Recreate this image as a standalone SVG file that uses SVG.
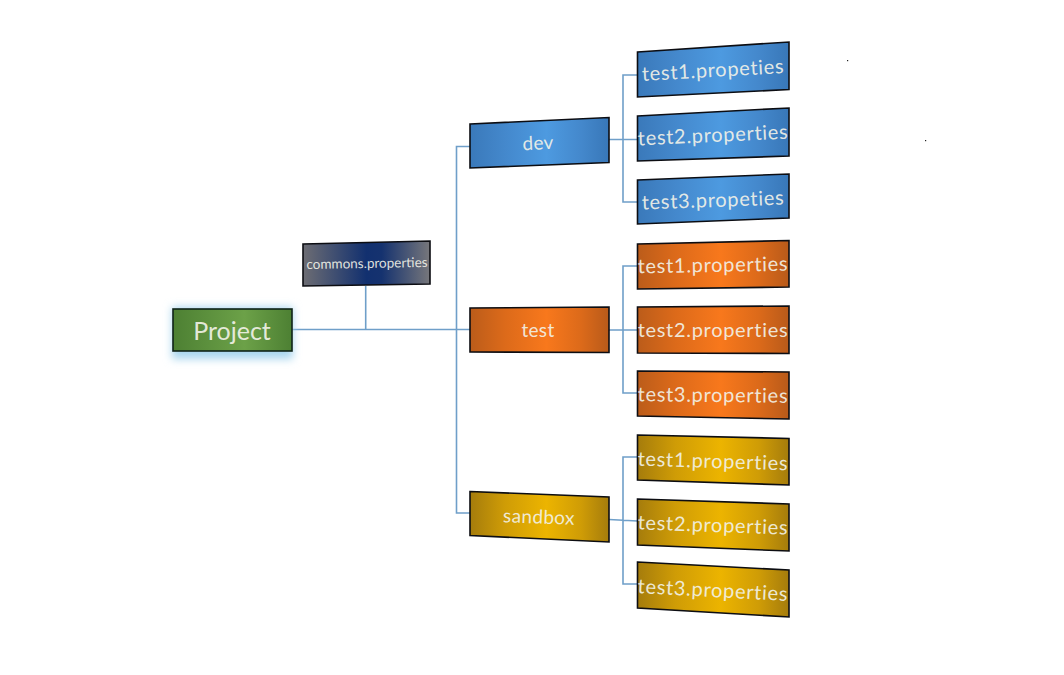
<svg xmlns="http://www.w3.org/2000/svg" width="1064" height="675" viewBox="0 0 1064 675">
<style>
.box{stroke:#0c0d12;stroke-width:1.6}
.blue{fill:url(#gBlue)}.orange{fill:url(#gOrange)}.gold{fill:url(#gGold)}
.t{font-family:"Lato","Noto Sans",sans-serif;fill:#f2f2e8;fill-opacity:.92;text-anchor:middle;dominant-baseline:central}
.leaf{font-size:20px;letter-spacing:.7px}
.mid{font-size:19px;letter-spacing:.35px}
.conn{fill:none;stroke:#6f9fc9;stroke-width:1.6}
</style>
<defs>
<linearGradient id="gBlue"><stop offset="0" stop-color="#3a79ba"/><stop offset=".25" stop-color="#4488cc"/><stop offset=".55" stop-color="#4d9ae0"/><stop offset=".8" stop-color="#4488cc"/><stop offset="1" stop-color="#3877b8"/></linearGradient>
<linearGradient id="gOrange"><stop offset="0" stop-color="#bb5c1a"/><stop offset=".25" stop-color="#dc6a1a"/><stop offset=".55" stop-color="#f8781c"/><stop offset=".8" stop-color="#dc6a1a"/><stop offset="1" stop-color="#b85a1a"/></linearGradient>
<linearGradient id="gGold"><stop offset="0" stop-color="#a57c0c"/><stop offset=".25" stop-color="#cf9c06"/><stop offset=".55" stop-color="#ecb400"/><stop offset=".8" stop-color="#cf9c06"/><stop offset="1" stop-color="#a57c0c"/></linearGradient>
<linearGradient id="gGreen"><stop offset="0" stop-color="#4d8033"/><stop offset=".6" stop-color="#6ca148"/><stop offset="1" stop-color="#4d8033"/></linearGradient>
<linearGradient id="gNavy"><stop offset="0" stop-color="#6d6d73"/><stop offset=".5" stop-color="#12306f"/><stop offset=".62" stop-color="#15326f"/><stop offset="1" stop-color="#77777b"/></linearGradient>
<filter id="glow" x="-20%" y="-50%" width="140%" height="200%"><feGaussianBlur stdDeviation="4"/></filter>
</defs>
<rect width="1064" height="675" fill="#fff"/>
<g id="connectors" class="conn">
<path d="M292 329.5H470"/>
<path d="M365.7 286V329.5"/>
<path d="M470 146.5H456.5V513H470"/>
<path d="M609 139.5H637.5M637.5 75H623V202H637.5"/>
<path d="M609 330H637.5M637.5 266H623V393H637.5"/>
<path d="M609 519.5L637.5 521M637.5 457H623V584H637.5"/>
</g>
<g id="project">
<rect x="172" y="307" width="121" height="52" fill="#a9d6ee" filter="url(#glow)"/>
<rect x="173" y="309" width="119" height="42" fill="url(#gGreen)" stroke="#10231a" stroke-width="1.6"/>
<text class="t" x="232" y="330" font-size="25">Project</text>
</g>
<g id="commons">
<polygon class="box" points="303,244 430,241 430,284 303,286" fill="url(#gNavy)"/>
<text class="t" x="367" y="263" font-size="13.5" transform="rotate(-1 367 263)">commons.properties</text>
</g>
<g id="dev">
<polygon class="box blue" points="470,124 609,117.5 609,162.5 470,168"/>
<text class="t mid" x="538" y="142" transform="rotate(-2.5 538 142)">dev</text>
</g>
<g id="dev-test1">
<polygon class="box blue" points="637.5,52 789,42 789,89.5 637.5,97"/>
<text class="t leaf" x="713" y="69" transform="rotate(-3.2 713 69)">test1.propeties</text>
</g>
<g id="dev-test2">
<polygon class="box blue" points="637.5,116 789,108 789,156 637.5,161"/>
<text class="t leaf" x="713" y="134" transform="rotate(-2.6 713 134)">test2.properties</text>
</g>
<g id="dev-test3">
<polygon class="box blue" points="637.5,180 789,174 789,218 637.5,224"/>
<text class="t leaf" x="713" y="199" transform="rotate(-2 713 199)">test3.propeties</text>
</g>
<g id="test">
<polygon class="box orange" points="470,308 609,307 609,352.5 470,352"/>
<text class="t mid" x="538" y="329">test</text>
</g>
<g id="test-test1">
<polygon class="box orange" points="637.5,244 789,240.5 789,287 637.5,289"/>
<text class="t leaf" x="713" y="264" transform="rotate(-1 713 264)">test1.properties</text>
</g>
<g id="test-test2">
<polygon class="box orange" points="637.5,307 789,306 789,353.5 637.5,353"/>
<text class="t leaf" x="713" y="329">test2.properties</text>
</g>
<g id="test-test3">
<polygon class="box orange" points="637.5,371 789,372 789,419 637.5,416"/>
<text class="t leaf" x="713" y="394" transform="rotate(.6 713 394)">test3.properties</text>
</g>
<g id="sandbox">
<polygon class="box gold" points="470,491.5 609,497 609,542 470,535.5"/>
<text class="t mid" x="539" y="516" transform="rotate(2 539 516)">sandbox</text>
</g>
<g id="sandbox-test1">
<polygon class="box gold" points="637.5,435 789,438.5 789,485 637.5,480"/>
<text class="t leaf" x="713" y="460" transform="rotate(1.8 713 460)">test1.properties</text>
</g>
<g id="sandbox-test2">
<polygon class="box gold" points="637.5,499 789,504 789,551 637.5,545"/>
<text class="t leaf" x="713" y="524" transform="rotate(2 713 524)">test2.properties</text>
</g>
<g id="sandbox-test3">
<polygon class="box gold" points="637.5,562 789,570 789,617 637.5,608"/>
<text class="t leaf" x="713" y="589" transform="rotate(3 713 589)">test3.properties</text>
</g>
<rect x="847" y="60" width="1.2" height="1.2" fill="#222"/>
<rect x="925" y="140" width="1.2" height="1.2" fill="#222"/>
</svg>
